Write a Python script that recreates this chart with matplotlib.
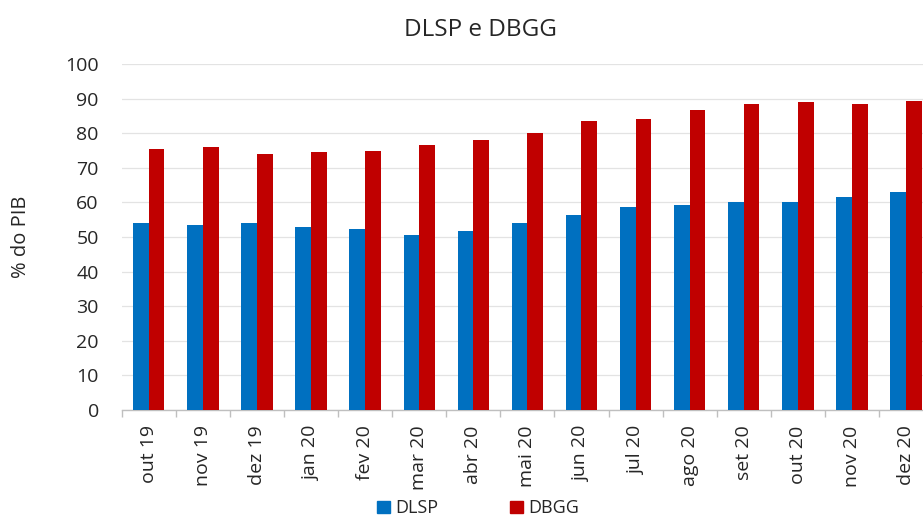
import numpy as np
import matplotlib
matplotlib.use('Agg')
import matplotlib.pyplot as plt
from matplotlib.patches import Patch

plt.rcParams['font.family'] = ['Open Sans', 'DejaVu Sans']

meses = ['out 19', 'nov 19', 'dez 19', 'jan 20', 'fev 20', 'mar 20', 'abr 20',
         'mai 20', 'jun 20', 'jul 20', 'ago 20', 'set 20', 'out 20', 'nov 20', 'dez 20']
dlsp = [54.0, 53.6, 54.2, 52.8, 52.4, 50.7, 51.7, 54.0, 56.5, 58.6, 59.2, 60.0, 60.0, 61.5, 62.9]
dbgg = [75.5, 75.9, 74.1, 74.5, 74.9, 76.6, 78.1, 80.2, 83.5, 84.2, 86.7, 88.5, 88.9, 88.5, 89.2]

blue = '#0070C0'
red = '#C00000'
grid_color = '#e3e3e3'
text_color = '#262626'

fig = plt.figure(figsize=(9.23, 5.21), dpi=100)
# the plot area runs a little past the right edge of the picture, as in the original
ax = fig.add_axes([0.1319, 0.213, 0.879, 0.664])

x = np.arange(len(meses))
w = 0.29
ax.bar(x - w / 2, dlsp, width=w, color=blue, zorder=3)
ax.bar(x + w / 2, dbgg, width=w, color=red, zorder=3)

ax.set_xlim(-0.5, len(meses) - 0.5)
ax.set_ylim(0, 100)
ax.set_yticks(np.arange(0, 101, 10))
ax.grid(axis='y', color=grid_color, linewidth=0.9, zorder=0)
ax.set_axisbelow(True)

for s in ['top', 'right', 'left']:
    ax.spines[s].set_visible(False)
ax.spines['bottom'].set_color('#bfbfbf')
ax.spines['bottom'].set_linewidth(1.0)

ax.set_xticks(x)
ax.set_xticklabels(meses, rotation=90, fontsize=14, color=text_color)
ax.set_xticks(np.arange(-0.5, len(meses), 1), minor=True)
ax.tick_params(axis='x', which='major', length=0, pad=11)
ax.tick_params(axis='x', which='minor', length=5, color='#bfbfbf', width=1.0)
ax.tick_params(axis='y', length=0, pad=16.5, labelsize=14, labelcolor=text_color)

ax.set_ylabel('% do PIB', fontsize=14.5, color=text_color)
ax.yaxis.set_label_coords(-0.112, 0.5)

fig.text(0.52, 0.943, 'DLSP e DBGG', ha='center', va='center', fontsize=17.5, color=text_color)

handles = [Patch(color=blue, label='DLSP'), Patch(color=red, label='DBGG')]
fig.legend(handles=handles, loc='center', bbox_to_anchor=(0.518, 0.024), ncol=2,
           frameon=False, fontsize=13, handlelength=0.7, handleheight=0.7,
           handletextpad=0.3, columnspacing=4.0, labelcolor=text_color,
           borderpad=0.1)

fig.savefig('out.png', dpi=100)
